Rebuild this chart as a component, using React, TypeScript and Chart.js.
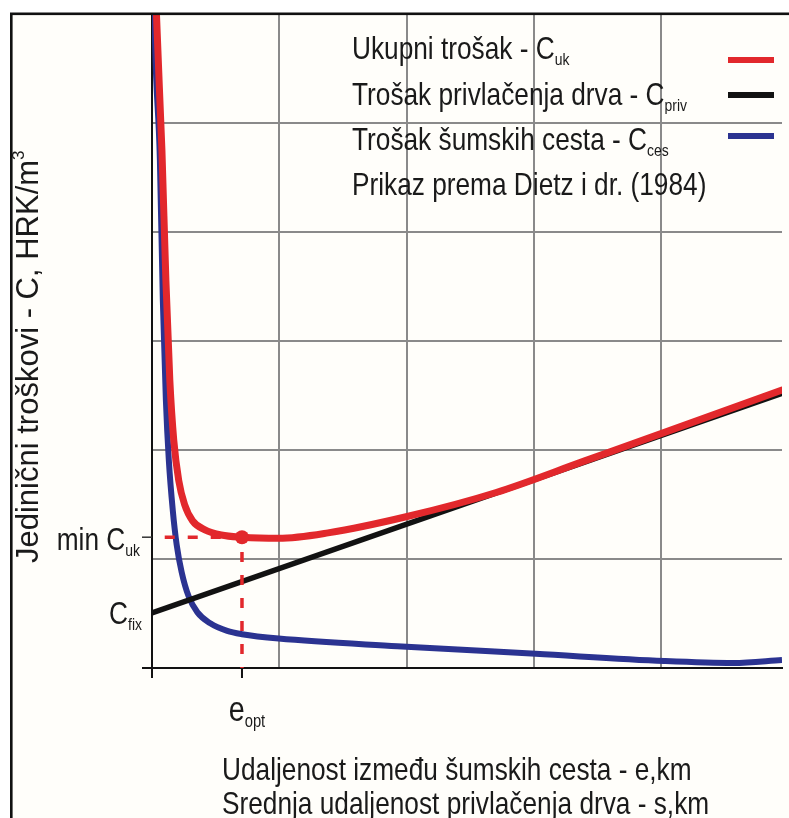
import React, { useEffect, useRef } from "react";
import { Chart, registerables } from "chart.js";

Chart.register(...registerables);

// ---------------- data ----------------
// Ukupni trošak - C_uk (total cost)
const totalE = [0.019, 0.035, 0.078, 0.109, 0.14, 0.171, 0.21, 0.256, 0.319, 0.412, 0.544, 0.707, 0.995, 1.383, 2.005, 2.704, 3.4, 4.0, 4.95];
const totalCost = [6.68, 6.0, 4.75, 3.56, 2.64, 2.09, 1.72, 1.5, 1.35, 1.27, 1.22, 1.2, 1.19, 1.24, 1.39, 1.61, 1.9, 2.15, 2.55];

// Trošak šumskih cesta - C_ces (road cost)
const roadE = [0.012, 0.019, 0.062, 0.085, 0.109, 0.132, 0.163, 0.194, 0.233, 0.287, 0.357, 0.458, 0.591, 0.707, 0.995, 1.927, 3.015, 4.025, 4.569, 4.95];
const roadCost = [6.68, 6.0, 4.66, 3.38, 2.46, 1.91, 1.45, 1.13, 0.88, 0.66, 0.51, 0.41, 0.34, 0.31, 0.27, 0.2, 0.13, 0.064, 0.046, 0.073];

// Trošak privlačenja drva - C_priv (skidding cost, linear)
const skidE = [0, 4.95];
const skidCost = [0.505, 2.52];

// marked values
const eOpt = 0.707;
const minTotal = 1.2;
const cFix = 0.505;
const dashStartE = 0.1;

// grid / axis range
const xRange = [0, 4.95];
const yRange = [0, 6];
const gridX = [0, 1, 2, 3, 4];
const gridY = [0, 1, 2, 3, 4, 5, 6];

// texts
const legendItems: [string, string][] = [
  ["Ukupni trošak - C", "uk"],
  ["Trošak privlačenja drva - C", "priv"],
  ["Trošak šumskih cesta - C", "ces"],
];
const sourceNote = "Prikaz prema Dietz i dr. (1984)";
const yTitle: [string, string] = ["Jedinični troškovi - C, HRK/m", "3"];
const xTitle = ["Udaljenost između šumskih cesta - e,km", "Srednja udaljenost privlačenja drva - s,km"];
const minLabel: [string, string] = ["min C", "uk"];
const fixLabel: [string, string] = ["C", "fix"];
const optLabel: [string, string] = ["e", "opt"];

// ---------------- styles ----------------
const RED = "#e2282c";
const BLUE = "#2b3391";
const BLACK = "#121212";
const GRID = "#8a8a8a";
const TEXT = "#1a1a1a";

let narrowAvailable: boolean | null = null;
function setFont(ctx: CanvasRenderingContext2D, size: number, narrow: boolean): number {
  if (narrowAvailable === null) {
    ctx.font = `32px "Liberation Sans"`;
    const w1 = ctx.measureText("Prikaz prema Dietz i dr.").width;
    ctx.font = `32px "Liberation Sans Narrow", "Liberation Sans"`;
    const w2 = ctx.measureText("Prikaz prema Dietz i dr.").width;
    narrowAvailable = Math.abs(w1 - w2) > 2;
  }
  if (narrow && narrowAvailable) {
    ctx.font = `${size}px "Liberation Sans Narrow", "Liberation Sans", Arial, sans-serif`;
    return 1;
  }
  ctx.font = `${size}px "Liberation Sans", Arial, sans-serif`;
  return narrow ? 0.82 : 1;
}

type Part = { text: string; size: number; dy: number };
function drawRich(
  ctx: CanvasRenderingContext2D,
  parts: Part[],
  x: number,
  y: number,
  align: "left" | "right" | "center",
  narrow = true,
  angle = 0
) {
  ctx.save();
  ctx.translate(x, y);
  if (angle) ctx.rotate(angle);
  ctx.textBaseline = "alphabetic";
  ctx.textAlign = "left";
  ctx.fillStyle = TEXT;
  let sx = 1;
  const widths = parts.map((p) => {
    sx = setFont(ctx, p.size, narrow);
    return ctx.measureText(p.text).width;
  });
  const total = widths.reduce((a, b) => a + b, 0);
  ctx.scale(sx, 1);
  let cx = align === "left" ? 0 : align === "right" ? -total : -total / 2;
  parts.forEach((p, i) => {
    setFont(ctx, p.size, narrow);
    ctx.fillText(p.text, cx, p.dy);
    cx += widths[i];
  });
  ctx.restore();
}

function sub(main: string, s: string, size = 32, subSize = 17): Part[] {
  return [
    { text: main, size, dy: 0 },
    { text: s, size: subSize, dy: 6 },
  ];
}

const decorPlugin = {
  id: "decor",
  beforeDraw(chart: any) {
    const { ctx, width, height } = chart;
    ctx.save();
    ctx.fillStyle = "#ffffff";
    ctx.fillRect(0, 0, width, height);
    ctx.fillStyle = "#fffefa";
    ctx.fillRect(11, 14, width, height);
    ctx.restore();
  },
  afterDraw(chart: any) {
    const { ctx, chartArea } = chart;
    const xs = chart.scales.x;
    const ys = chart.scales.y;
    const x0 = xs.getPixelForValue(0);
    const y0 = ys.getPixelForValue(0);
    ctx.save();

    // tick marks
    ctx.strokeStyle = BLACK;
    ctx.lineWidth = 2;
    ctx.beginPath();
    ctx.moveTo(x0 - 10, y0);
    ctx.lineTo(x0, y0);
    ctx.moveTo(x0, y0);
    ctx.lineTo(x0, y0 + 10);
    const xo = xs.getPixelForValue(eOpt);
    ctx.moveTo(xo, y0 + 1);
    ctx.lineTo(xo, y0 + 10);
    ctx.stroke();
    ctx.lineWidth = 1.5;
    ctx.strokeStyle = "#333";
    const ym = ys.getPixelForValue(minTotal);
    ctx.beginPath();
    ctx.moveTo(x0 - 10, ym);
    ctx.lineTo(x0, ym);
    ctx.stroke();

    // axis value labels
    drawRich(ctx, sub(minLabel[0], minLabel[1]), x0 - 12, ym + 13, "right");
    const yf = ys.getPixelForValue(cFix);
    drawRich(ctx, sub(fixLabel[0], fixLabel[1]), x0 - 10, yf + 11, "right");
    drawRich(ctx, sub(optLabel[0], optLabel[1], 35, 18), xo + 5, y0 + 53, "center");

    // legend
    const legendColors = [RED, BLACK, BLUE];
    const textY = [59, 105, 150];
    const lineY = [60, 95, 136];
    legendItems.forEach((it, i) => {
      drawRich(ctx, sub(it[0], it[1]), 352, textY[i], "left");
      ctx.strokeStyle = legendColors[i];
      ctx.lineWidth = 6;
      ctx.beginPath();
      ctx.moveTo(728, lineY[i]);
      ctx.lineTo(774, lineY[i]);
      ctx.stroke();
    });
    drawRich(ctx, [{ text: sourceNote, size: 32, dy: 0 }], 352, 195, "left");

    // axis titles
    drawRich(
      ctx,
      [
        { text: yTitle[0], size: 31, dy: 0 },
        { text: yTitle[1], size: 17, dy: -14 },
      ],
      38,
      563,
      "left",
      false,
      -Math.PI / 2
    );
    drawRich(ctx, [{ text: xTitle[0], size: 32, dy: 0 }], 222, 780, "left");
    drawRich(ctx, [{ text: xTitle[1], size: 32, dy: 0 }], 222, 814, "left");

    // outer frame
    ctx.strokeStyle = "#111";
    ctx.lineWidth = 2.6;
    ctx.strokeRect(11.3, chartArea.top - 0.2, 3000, 3000);
    ctx.restore();
  },
};

export default function App() {
  const ref = useRef<HTMLCanvasElement | null>(null);

  useEffect(() => {
    document.body.style.margin = "0";
    const canvas = ref.current;
    if (!canvas) return;
    const pts = (xsArr: number[], ysArr: number[]) => xsArr.map((x, i) => ({ x, y: ysArr[i] }));
    const chart = new Chart(canvas, {
      type: "line",
      data: {
        datasets: [
          {
            label: "marker",
            data: [{ x: eOpt, y: minTotal }],
            showLine: false,
            pointRadius: 7,
            pointBackgroundColor: RED,
            pointBorderColor: RED,
            pointBorderWidth: 0,
            order: -1,
            clip: false as any,
          },
          {
            label: "Ukupni trošak",
            data: pts(totalE, totalCost),
            borderColor: RED,
            borderWidth: 7,
            pointRadius: 0,
            cubicInterpolationMode: "monotone",
            borderCapStyle: "round",
            borderJoinStyle: "round",
            order: 0,
            clip: 0 as any,
          },
          {
            label: "dashed",
            data: [
              { x: dashStartE, y: minTotal },
              { x: eOpt, y: minTotal },
              { x: eOpt, y: 0 },
            ],
            borderColor: RED,
            borderWidth: 3.5,
            borderDash: [10, 13],
            pointRadius: 0,
            tension: 0,
            order: 1,
            clip: 0 as any,
          },
          {
            label: "Trošak privlačenja drva",
            data: pts(skidE, skidCost),
            borderColor: BLACK,
            borderWidth: 5.5,
            pointRadius: 0,
            order: 2,
            clip: 0 as any,
          },
          {
            label: "Trošak šumskih cesta",
            data: pts(roadE, roadCost),
            borderColor: BLUE,
            borderWidth: 6,
            pointRadius: 0,
            cubicInterpolationMode: "monotone",
            borderJoinStyle: "round",
            order: 3,
            clip: 0 as any,
          },
        ],
      },
      options: {
        animation: false,
        responsive: false,
        devicePixelRatio: 1,
        parsing: false as any,
        layout: { padding: { left: 152, top: 14, right: 0, bottom: 150 } },
        plugins: {
          legend: { display: false },
          tooltip: { enabled: false },
          title: { display: false },
        },
        scales: {
          x: {
            type: "linear",
            min: xRange[0],
            max: xRange[1],
            afterBuildTicks: (s: any) => {
              s.ticks = gridX.map((v) => ({ value: v }));
            },
            ticks: { display: false },
            grid: { color: GRID, lineWidth: 2, drawTicks: false },
            border: { display: true, color: BLACK, width: 2 },
          },
          y: {
            type: "linear",
            min: yRange[0],
            max: yRange[1],
            afterBuildTicks: (s: any) => {
              s.ticks = gridY.map((v) => ({ value: v }));
            },
            ticks: { display: false },
            grid: { color: GRID, lineWidth: 2, drawTicks: false },
            border: { display: true, color: BLACK, width: 2 },
          },
        },
      },
      plugins: [decorPlugin],
    } as any);
    return () => chart.destroy();
  }, []);

  return (
    <div style={{ position: "relative", width: 789, height: 818, overflow: "hidden" }}>
      <canvas ref={ref} width={789} height={818} style={{ display: "block", width: 789, height: 818 }} />
    </div>
  );
}
